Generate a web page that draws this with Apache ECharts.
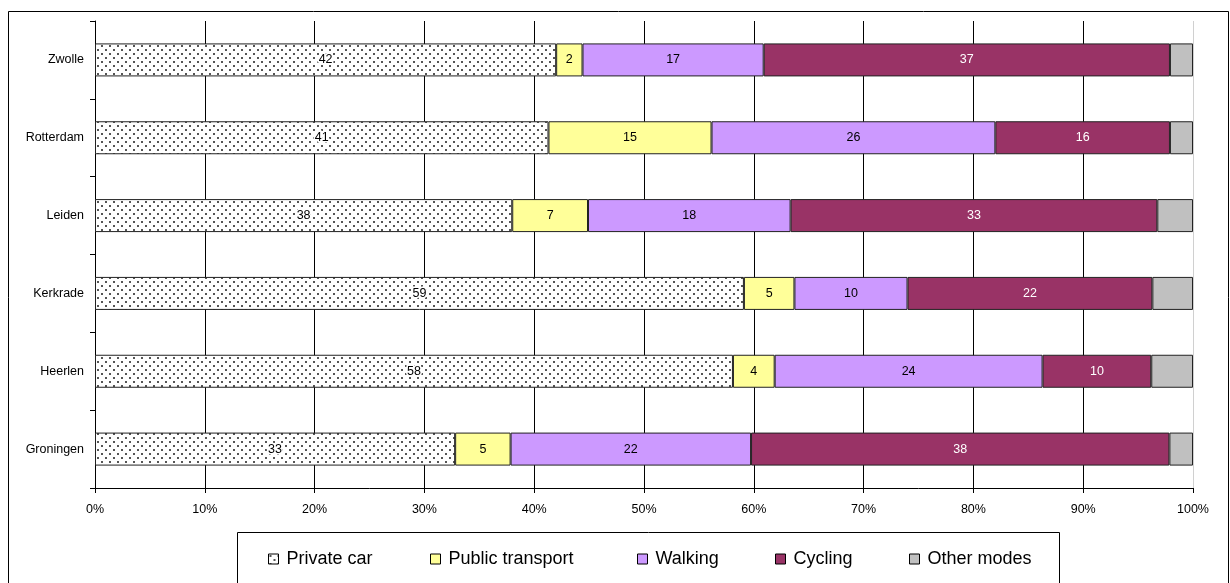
<!DOCTYPE html>
<html>
<head>
<meta charset="utf-8">
<title>Modal split</title>
<script src="https://cdn.jsdelivr.net/npm/echarts@6/dist/echarts.min.js"></script>
<style>
  html, body { margin: 0; padding: 0; background: #fff; }
  #chart { width: 1230px; height: 583px; }
</style>
</head>
<body>
<div id="chart"></div>
<script>
// cities, bottom to top
const cities = ['Groningen', 'Heerlen', 'Kerkrade', 'Leiden', 'Rotterdam', 'Zwolle'];

// shares per mode (%)
const privateCar = [32.8, 58.1, 59.1, 38.0, 41.3, 42.0];
const publicTransport = [5.05, 3.8, 4.6, 6.9, 14.85, 2.4];
const walking = [21.9, 24.4, 10.3, 18.45, 25.85, 16.5];
const cycling = [38.1, 9.9, 22.3, 33.4, 15.9, 37.0];
const otherModes = [2.15, 3.8, 3.7, 3.25, 2.1, 2.1];

const modes = ['Private car', 'Public transport', 'Walking', 'Cycling', 'Other modes'];
const xTicks = [0, 10, 20, 30, 40, 50, 60, 70, 80, 90, 100];

// dotted fill for private car
const makeDots = () => {
  const c = document.createElement('canvas');
  c.width = 8;
  c.height = 8;
  const ctx = c.getContext('2d');
  ctx.fillStyle = '#fff';
  ctx.fillRect(0, 0, 8, 8);
  ctx.fillStyle = '#555';
  ctx.fillRect(1, 1, 2, 2);
  ctx.fillRect(5, 5, 2, 2);
  return c;
};

const font = '"Liberation Sans", Arial, sans-serif';

const barSeries = (name, data, color, labelColor, showLabel) => ({
  name: name,
  type: 'bar',
  stack: 'total',
  data: data,
  barWidth: 33,
  itemStyle: {
    color: color,
    borderColor: '#222',
    borderWidth: 1
  },
  label: {
    show: showLabel,
    position: 'inside',
    color: labelColor,
    fontFamily: font,
    fontSize: 12.5,
    formatter: (p) => Math.round(p.value),
    textBorderColor: name === 'Private car' ? '#fff' : 'transparent',
    textBorderWidth: name === 'Private car' ? 3 : 0
  },
  emphasis: { disabled: true }
});

// one legend per item so each sits where it does in the original
const legendLefts = [268, 430, 637, 775, 909];
const legends = modes.map((m, i) => ({
  left: legendLefts[i],
  top: 550,
  padding: 0,
  itemWidth: 10,
  itemHeight: 10,
  icon: 'rect',
  itemStyle: { borderColor: '#000', borderWidth: 1 },
  textStyle: {
    color: '#000',
    fontFamily: font,
    fontSize: 18,
    padding: [0, 0, 0, 3]
  },
  selectedMode: false,
  data: [m]
}));

const chart = echarts.init(document.getElementById('chart'), null, { renderer: 'canvas' });

const splitColors = xTicks.map((t) => (t === 100 ? '#d0d0d0' : '#000'));

const option = {
  animation: false,
  backgroundColor: '#fff',
  grid: {
    left: 95,
    right: 37,
    top: 21,
    bottom: 95,
    containLabel: false,
    outerBoundsMode: 'none'
  },
  xAxis: {
    type: 'value',
    min: 0,
    max: 100,
    interval: 10,
    axisLine: { show: true, lineStyle: { color: '#000', width: 1 } },
    axisTick: { show: true, length: 5, lineStyle: { color: '#000' } },
    axisLabel: {
      color: '#000',
      fontFamily: font,
      fontSize: 12.5,
      margin: 15,
      formatter: '{value}%'
    },
    splitLine: { show: true, lineStyle: { color: splitColors, width: 1 } }
  },
  yAxis: {
    type: 'category',
    data: cities,
    axisLine: { show: true, lineStyle: { color: '#000', width: 1 } },
    axisTick: { show: true, length: 5, lineStyle: { color: '#000' } },
    axisLabel: {
      color: '#000',
      fontFamily: font,
      fontSize: 12.5,
      margin: 11
    },
    splitLine: { show: false }
  },
  legend: legends,
  graphic: [
    {
      type: 'rect',
      silent: true,
      shape: { x: 8.5, y: 11.5, width: 1220, height: 600 },
      style: { fill: 'none', stroke: '#000', lineWidth: 1 }
    },
    {
      type: 'rect',
      silent: true,
      shape: { x: 237.5, y: 532.5, width: 822, height: 60 },
      style: { fill: 'none', stroke: '#000', lineWidth: 1 }
    }
  ],
  series: [
    barSeries(modes[0], privateCar, { image: makeDots(), repeat: 'repeat' }, '#000', true),
    barSeries(modes[1], publicTransport, '#FFFF99', '#000', true),
    barSeries(modes[2], walking, '#CC99FF', '#000', true),
    barSeries(modes[3], cycling, '#993366', '#fff', true),
    barSeries(modes[4], otherModes, '#C0C0C0', '#000', false)
  ]
};

chart.setOption(option);
</script>
</body>
</html>
